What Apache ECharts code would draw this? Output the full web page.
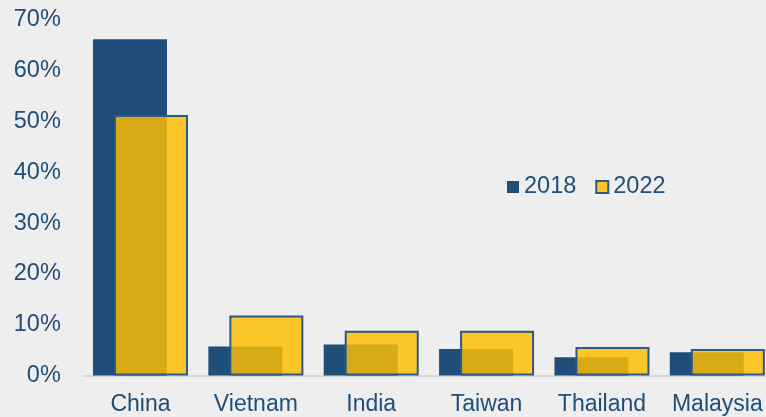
<!DOCTYPE html>
<html>
<head>
<meta charset="utf-8">
<script src="https://cdn.jsdelivr.net/npm/echarts@6/dist/echarts.min.js"></script>
<style>
  html, body { margin: 0; padding: 0; background: #EEEEEE; }
  #chart { width: 766px; height: 417px; }
</style>
</head>
<body>
<div id="chart"></div>
<script>
// Share by country (%), 2018 vs 2022
const countries = ['China', 'Vietnam', 'India', 'Taiwan', 'Thailand', 'Malaysia'];
const share2018 = [66.2, 5.7, 6.1, 5.2, 3.6, 4.6];
const share2022 = [51.3, 11.8, 8.8, 8.8, 5.6, 5.2];
const yTicks = { min: 0, max: 70, step: 10 };

const textBlue = '#1F4E79';
const font = 'Liberation Sans, Arial, sans-serif';

const chart = echarts.init(document.getElementById('chart'), null, { renderer: 'canvas' });

chart.setOption({
  backgroundColor: '#EEEEEE',
  animation: false,
  grid: {
    left: 82.8,
    right: -9,
    top: 20,
    bottom: 41.5,
    outerBoundsMode: 'none'
  },
  legend: {
    left: 507,
    top: 175,
    padding: 0,
    itemWidth: 12,
    itemHeight: 12,
    itemGap: 19,
    icon: 'rect',
    textStyle: { fontSize: 23.5, color: textBlue, fontFamily: font },
    data: ['2018', '2022']
  },
  xAxis: {
    type: 'category',
    data: countries,
    axisLine: { show: true, lineStyle: { color: '#D9D9D9', width: 2 } },
    axisTick: { show: false },
    axisLabel: { fontSize: 23, color: textBlue, fontFamily: font, margin: 18, interval: 0 }
  },
  yAxis: {
    type: 'value',
    min: yTicks.min,
    max: yTicks.max,
    interval: yTicks.step,
    splitLine: { show: false },
    axisLine: { show: false },
    axisTick: { show: false },
    axisLabel: {
      fontSize: 23.5,
      color: textBlue,
      fontFamily: font,
      margin: 22,
      padding: [3, 0, 0, 0],
      formatter: '{value}%'
    }
  },
  series: [
    {
      name: '2018',
      type: 'bar',
      data: share2018,
      barWidth: 74,
      barGap: '-71.6%',
      itemStyle: { color: '#1F4E79' }
    },
    {
      name: '2022',
      type: 'bar',
      data: share2022,
      barWidth: 74,
      barGap: '-71.6%',
      itemStyle: {
        color: 'rgba(254,190,2,0.83)',
        borderColor: '#2C5985',
        borderWidth: 2
      }
    }
  ]
});
</script>
</body>
</html>
